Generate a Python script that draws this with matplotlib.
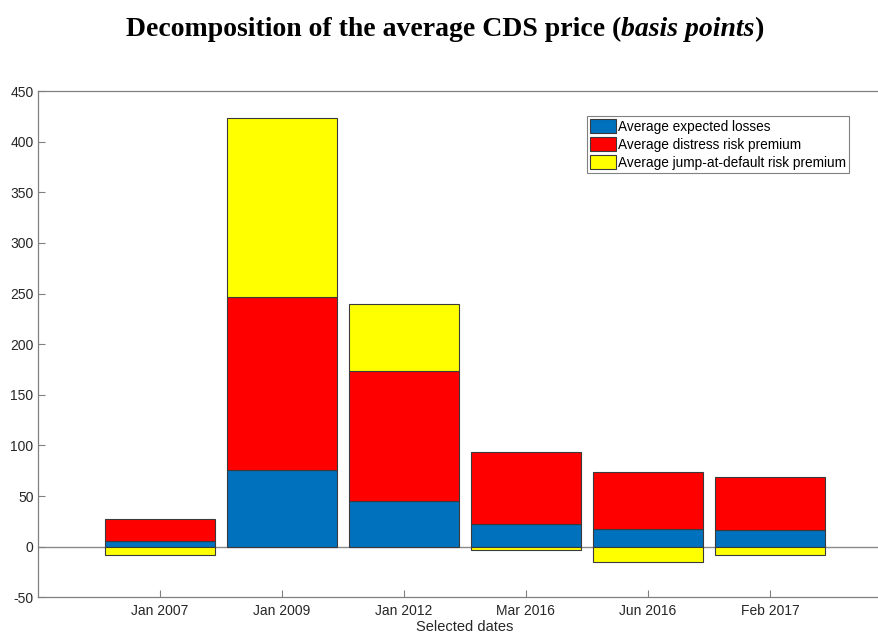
import numpy as np
import matplotlib
matplotlib.use("Agg")
import matplotlib.pyplot as plt

# values (basis points)
dates = ['Jan 2007', 'Jan 2009', 'Jan 2012', 'Mar 2016', 'Jun 2016', 'Feb 2017']
expected_losses = [5.6, 76.0, 45.4, 22.4, 17.5, 16.5]
distress_premium = [21.4, 170.7, 128.3, 71.0, 56.5, 52.3]
jump_premium = [-8.2, 176.3, 66.1, -3.3, -15.5, -8.6]

labels = ['Average expected losses',
          'Average distress risk premium',
          'Average jump-at-default risk premium']
colors = ['#0072BD', '#FF0000', '#FFFF00']

plt.rcParams['font.family'] = ['Liberation Sans', 'DejaVu Sans']
plt.rcParams['axes.unicode_minus'] = False

fig = plt.figure(figsize=(8.79, 6.36), dpi=100)
ax = fig.add_axes([0.0429, 0.0608, 0.972, 0.796])

x = np.arange(1, len(dates) + 1)
el = np.array(expected_losses)
dp = np.array(distress_premium)
jp = np.array(jump_premium)

# MATLAB-style stacking: positives stack up, negatives stack down from zero
pos_base = np.zeros(len(x))
neg_base = np.zeros(len(x))
for vals, lab, col in zip([el, dp, jp], labels, colors):
    bottom = np.where(vals >= 0, pos_base, neg_base)
    ax.bar(x, vals, width=0.9, bottom=bottom, color=col, edgecolor='#3a3a3a',
           linewidth=0.8, label=lab, zorder=2)
    pos_base = pos_base + np.where(vals >= 0, vals, 0)
    neg_base = neg_base + np.where(vals < 0, vals, 0)

ax.axhline(0, color='#8a8a8a', linewidth=1.0, zorder=1)

ax.set_xlim(0, 7)
ax.set_ylim(-50, 450)
ax.set_xticks(x)
ax.set_xticklabels(dates)
ax.set_yticks(np.arange(-50, 451, 50))
ax.tick_params(direction='in', length=5, width=0.8, labelcolor='#262626',
               color='#808080', labelsize=10)
ax.tick_params(axis='x', pad=5)
ax.tick_params(axis='y', pad=3)
for s in ax.spines.values():
    s.set_color('#808080')
    s.set_linewidth(0.9)

ax.set_xlabel('Selected dates', fontsize=10.5, color='#262626', labelpad=1)

leg = ax.legend(loc='upper right', bbox_to_anchor=(0.9497, 0.9506),
                borderaxespad=0, fancybox=False, fontsize=9.8,
                handlelength=1.9, handleheight=1.2, handletextpad=0.12,
                labelspacing=0.25, borderpad=0.25, framealpha=1)
leg.get_frame().set_edgecolor('#808080')
leg.get_frame().set_linewidth(0.8)

# title: bold serif + bold italic part, centred together
serif = ['Liberation Serif', 'DejaVu Serif']
ty = 0.953
t1 = fig.text(0, ty, 'Decomposition of the average CDS price ',
              ha='left', va='center', fontsize=20, fontweight='bold', family=serif)
t2 = fig.text(0, ty, '(', ha='left', va='center', fontsize=20,
              fontweight='bold', family=serif)
t3 = fig.text(0, ty, 'basis points', ha='left', va='center', fontsize=20,
              fontweight='bold', fontstyle='italic', family=serif)
t4 = fig.text(0, ty, ')', ha='left', va='center', fontsize=20,
              fontweight='bold', family=serif)
r = fig.canvas.get_renderer()
parts = [t1, t2, t3, t4]
widths = [t.get_window_extent(r).width / fig.bbox.width for t in parts]
xpos = 0.506 - sum(widths) / 2
for t, w in zip(parts, widths):
    t.set_x(xpos)
    xpos += w

fig.savefig('out.png', dpi=100)
